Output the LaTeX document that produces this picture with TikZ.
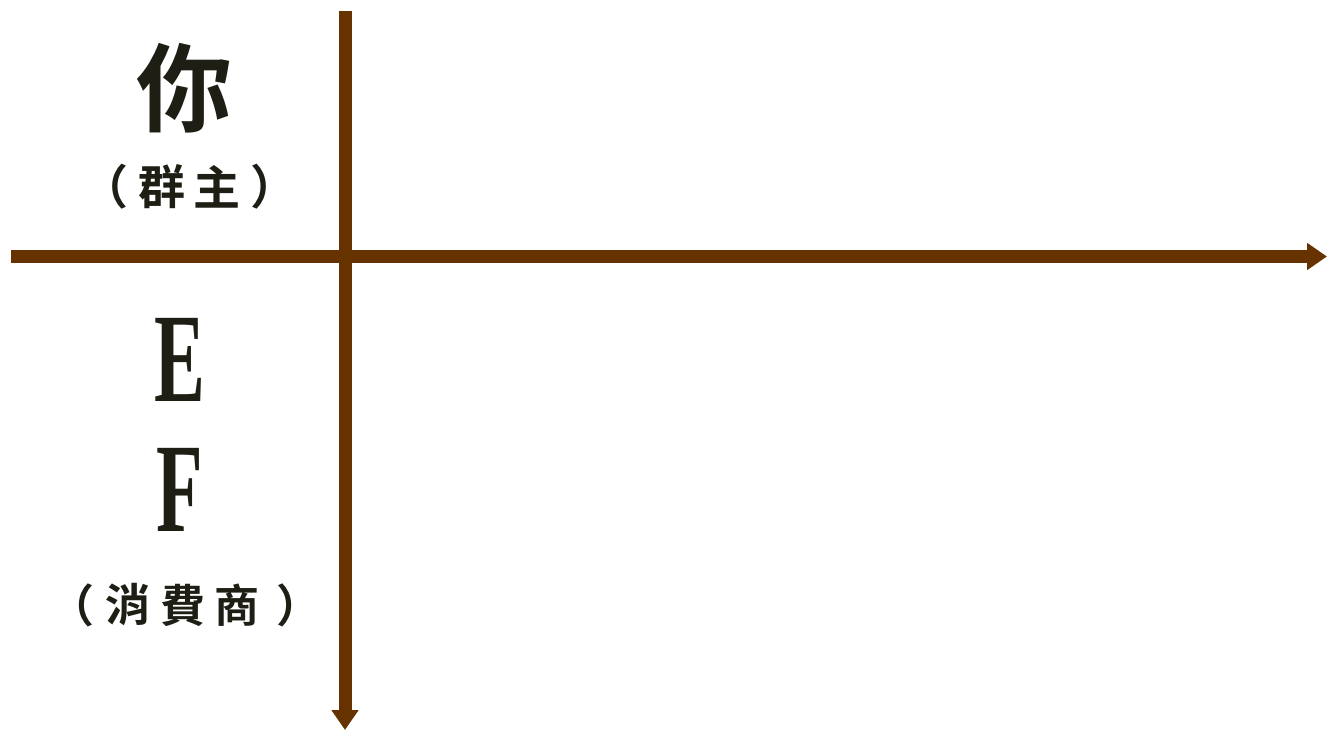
\documentclass[tikz,border=0pt]{standalone}
\usepackage{fontspec}
\usepackage{graphicx}
\setmainfont{Liberation Serif}
\newfontfamily\cjk[BoldFont={Noto Sans CJK TC Bold}]{Noto Sans CJK TC}
\usetikzlibrary{arrows.meta}
\definecolor{axis}{RGB}{102,51,0}
\definecolor{ink}{RGB}{30,30,20}
\tikzset{
  axisline/.style={draw=axis, line width=13pt, -{Triangle[width=26pt,length=20pt]}},
  lbl/.style={text=ink, inner sep=0pt, anchor=center},
  small/.style={lbl, font=\cjk\bfseries\fontsize{47}{47}\selectfont},
  smallb/.style={lbl, font=\cjk\bfseries\fontsize{45}{45}\selectfont},
}
\begin{document}
\begin{tikzpicture}[x=1pt,y=-1pt]
\useasboundingbox (0,0) rectangle (1327,730);
\coordinate (vtop) at (345,11);
\coordinate (vbot) at (345,730);
\coordinate (hleft) at (11,256.5);
\coordinate (hright) at (1327,256.5);
\draw[axisline] (vtop) -- (vbot);
\draw[axisline] (hleft) -- (hright);
\node[lbl] (you) at (184,88) {\cjk\bfseries\fontsize{96}{96}\selectfont 你};
\node[small] (o1) at (105,187) {（};
\node[small] (o2) at (162,187) {群};
\node[small] (o3) at (217,187) {主};
\node[small] (o4) at (274,187) {）};
\node[lbl] (e) at (180,360) {\bfseries\fontsize{127}{127}\selectfont\scalebox{0.6}[1]{E}};
\node[lbl] (f) at (180,490) {\bfseries\fontsize{127}{127}\selectfont\scalebox{0.6}[1]{F}};
\node[smallb] (c1) at (72,605) {（};
\node[smallb] (c2) at (128,605) {消};
\node[smallb] (c3) at (183,605) {費};
\node[smallb] (c4) at (237,605) {商};
\node[smallb] (c5) at (299,605) {）};
\end{tikzpicture}
\end{document}
